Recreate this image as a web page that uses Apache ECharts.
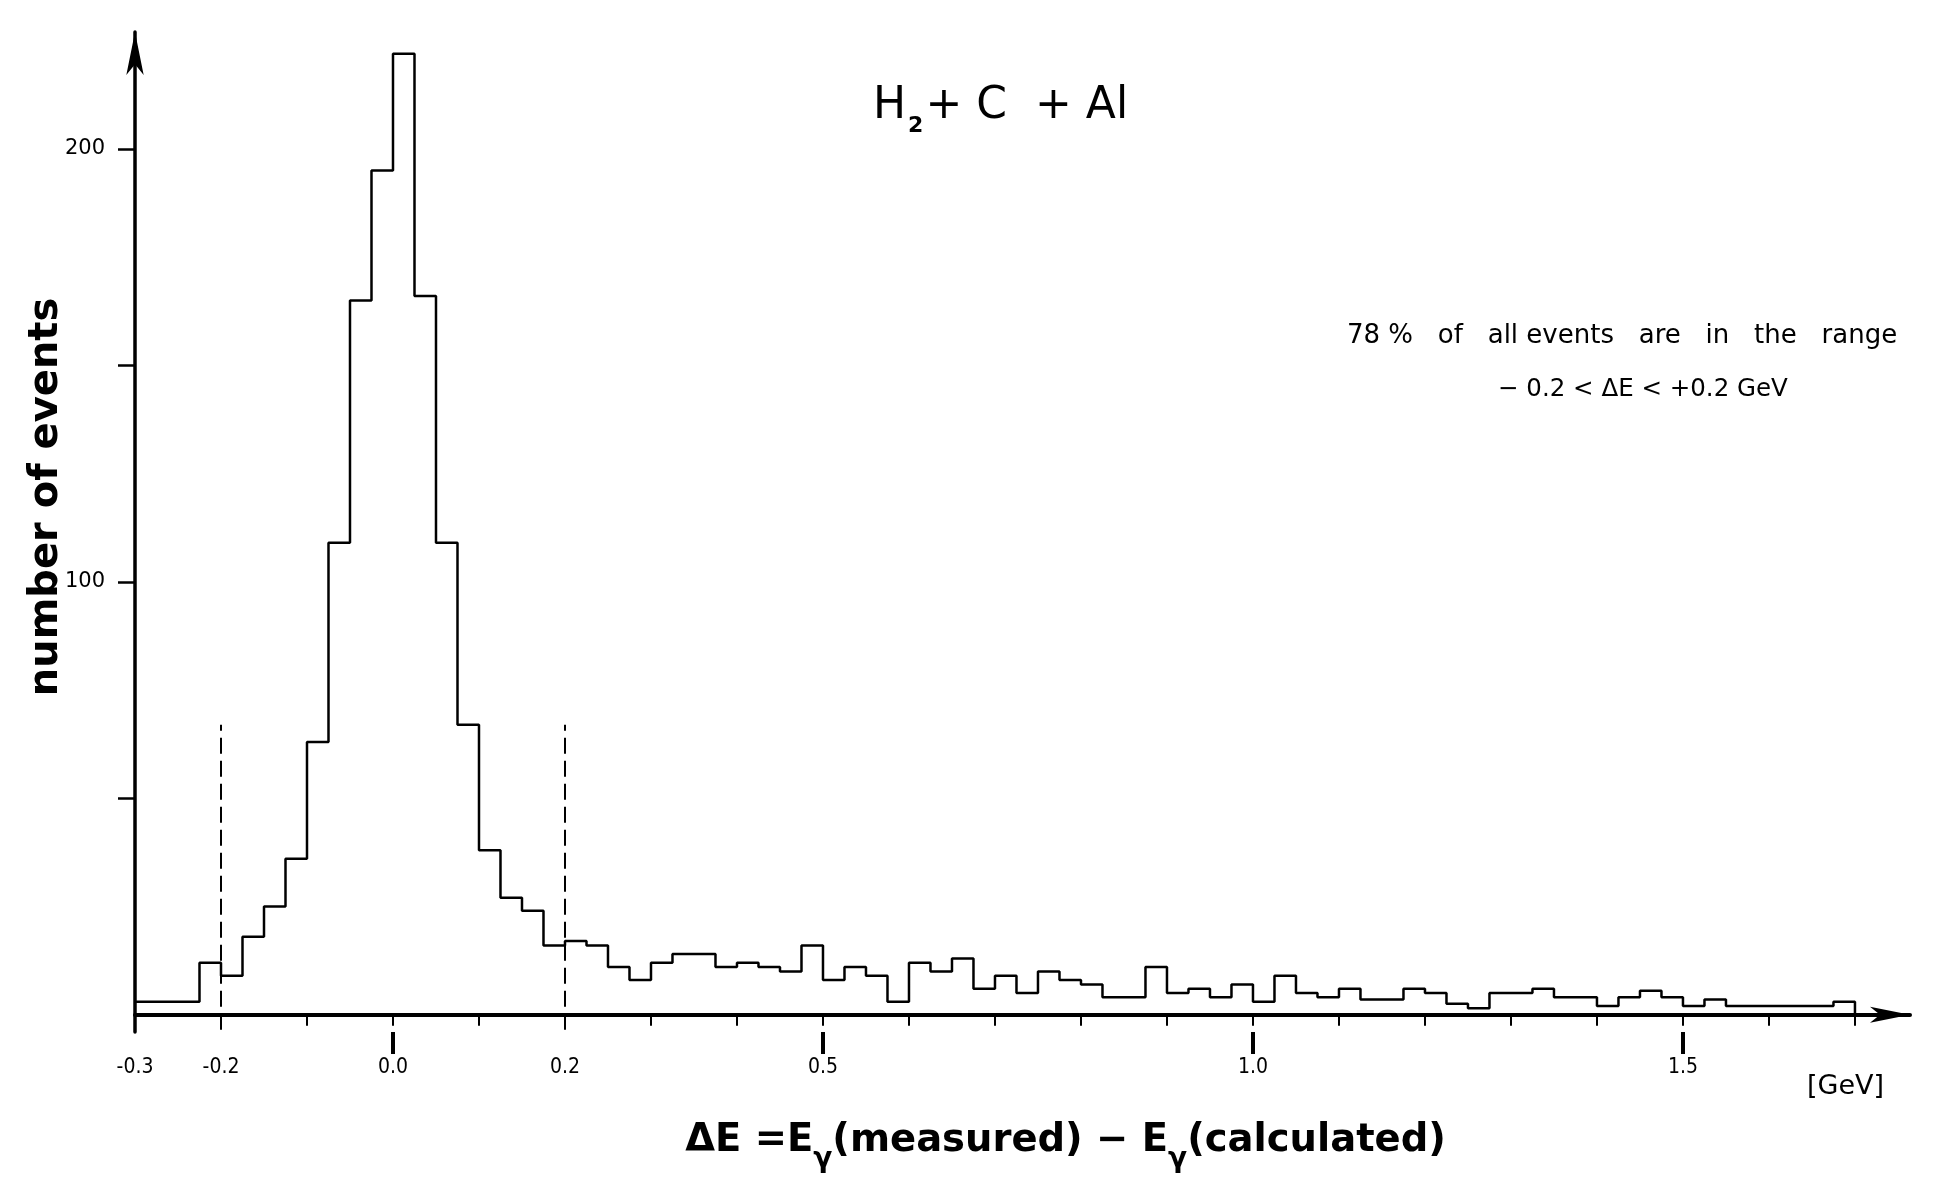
<!DOCTYPE html>
<html>
<head>
<meta charset="utf-8">
<script src="https://cdn.jsdelivr.net/npm/echarts@6/dist/echarts.min.js"></script>
<style>
html,body{margin:0;padding:0;background:#fff;}
#chart{width:1939px;height:1179px;}
</style>
</head>
<body>
<div id="chart"></div>
<script>
// ---- data ----
const binStart = -0.3;       // GeV, left edge of first bin
const binWidth = 0.025;      // GeV
const counts = [
  3, 3, 3, 12, 9, 18, 25, 36, 63, 109,
  165, 195, 222, 166, 109, 67, 38, 27, 24, 16,
  17, 16, 11, 8, 12, 14, 14, 11, 12, 11,
  10, 16, 8, 11, 9, 3, 12, 10, 13, 6,
  9, 5, 10, 8, 7, 4, 4, 11, 5, 6,
  4, 7, 3, 9, 5, 4, 6, 3.5, 3.5, 6,
  5, 2.5, 1.5, 5, 5, 6, 4, 4, 2, 4,
  5.5, 4, 2, 3.5, 2, 2, 2, 2, 2, 3
];
const xMinorTicks = [-0.3,-0.2,-0.1,0,0.1,0.2,0.3,0.4,0.5,0.6,0.7,0.8,0.9,1.0,1.1,1.2,1.3,1.4,1.5,1.6,1.7];
const xMajorTicks = [0, 0.5, 1.0, 1.5];
const xLabels = [-0.3, -0.2, 0, 0.2, 0.5, 1.0, 1.5];
const unitText = '[GeV]';
const yTicks = [50, 100, 150, 200];
const yLabels = [100, 200];
const cutLines = [-0.2, 0.2];
const cutRange = [-3.5, 67];
const titleText = ['H', '2', '+ C  + Al'];
const noteLine1 = '78 %   of   all events   are   in   the   range';
const noteLine2 = '− 0.2 < ΔE < +0.2 GeV';
const xName = ['ΔE =E', 'γ', '(measured) − E', 'γ', '(calculated)'];
const yName = 'number of events';

// ---- build histogram outline ----
const histPoints = counts.map((c, i) => [binStart + i * binWidth, c]);
const binEnd = binStart + counts.length * binWidth;
histPoints.push([binEnd, counts[counts.length - 1]]);
histPoints.push([binEnd, 0]);

const LABEL_FONT = '"Liberation Sans Narrow","DejaVu Sans Condensed","DejaVu Sans",sans-serif';
const TEXT_FONT = '"DejaVu Sans","Liberation Sans",sans-serif';

const X_MIN = -0.3, X_MAX = 1.764, Y_MIN = -4, Y_MAX = 227;

const chart = echarts.init(document.getElementById('chart'), null, {renderer: 'canvas'});
const option = {
  animation: false,
  backgroundColor: '#fff',
  title: [
    {
      text: '{a|' + titleText[0] + '}{b|' + titleText[1] + '}{a|' + titleText[2] + '}',
      left: 868, top: 72,
      textStyle: {
        fontWeight: 'normal',
        rich: {
          a: {fontSize: 44, fontWeight: 'normal', fontFamily: TEXT_FONT, color: '#000'},
          b: {fontSize: 22, fontWeight: 'bold', fontFamily: TEXT_FONT, color: '#000', padding: [38, 2, 0, 2]}
        }
      }
    },
    {
      text: noteLine1, left: 1342, top: 318,
      textStyle: {fontSize: 26, fontWeight: 'normal', fontFamily: TEXT_FONT, color: '#000'}
    },
    {
      text: noteLine2, left: 1493, top: 372,
      textStyle: {fontSize: 24.5, fontWeight: 'normal', fontFamily: TEXT_FONT, color: '#000'}
    },
    {
      text: unitText, left: 1802, top: 1068,
      textStyle: {fontSize: 27, fontWeight: 'normal', fontFamily: TEXT_FONT, color: '#000'}
    }
  ],
  grid: {left: 135, right: 29, top: 32, bottom: 145},
  xAxis: [
    {
      type: 'value', min: X_MIN, max: X_MAX, position: 'bottom',
      axisLine: {show: true, onZero: true, lineStyle: {color: '#000', width: 4},
                 symbol: ['none', 'arrow'], symbolSize: [12, 40]},
      axisTick: {show: true, customValues: xMinorTicks, length: 11, lineStyle: {color: '#000', width: 2}},
      axisLabel: {
        customValues: xLabels,
        margin: 25, color: '#000', fontSize: 21, fontFamily: LABEL_FONT,
        formatter: v => v.toFixed(1)
      },
      splitLine: {show: false},
      name: '{t|' + xName[0] + '}{s|' + xName[1] + '}{t|' + xName[2] + '}{s|' + xName[3] + '}{t|' + xName[4] + '}',
      nameLocation: 'middle', nameGap: 76, nameMoveOverlap: false,
      nameTextStyle: {
        padding: [0, 0, 0, 86],
        rich: {
          t: {fontSize: 38.5, fontWeight: 'bold', fontFamily: TEXT_FONT, color: '#000'},
          s: {fontSize: 28, fontWeight: 'bold', fontFamily: TEXT_FONT, color: '#000', padding: [38, 0, 0, 0]}
        }
      }
    },
    {
      type: 'value', min: X_MIN, max: X_MAX, position: 'bottom',
      axisLine: {show: false, onZero: true},
      axisTick: {show: true, customValues: xMajorTicks, length: 22, lineStyle: {color: '#000', width: 4}},
      axisLabel: {show: false},
      splitLine: {show: false}
    }
  ],
  yAxis: {
    type: 'value', min: Y_MIN, max: Y_MAX, position: 'left',
    axisLine: {show: true, onZero: false, lineStyle: {color: '#000', width: 3.5},
               symbol: ['none', 'arrow'], symbolSize: [13, 43]},
    axisTick: {show: true, customValues: yTicks, length: 17, lineStyle: {color: '#000', width: 2.5}},
    axisLabel: {customValues: yLabels, margin: 30, fontSize: 21, color: '#000', fontFamily: TEXT_FONT},
    splitLine: {show: false},
    name: yName, nameLocation: 'middle', nameRotate: 90, nameGap: 68, nameMoveOverlap: false,
    nameTextStyle: {fontSize: 40, fontWeight: 'bold', fontFamily: TEXT_FONT, color: '#000', padding: [0, 0, 0, 70]}
  },
  series: [
    {
      type: 'line', xAxisIndex: 0, yAxisIndex: 0,
      data: histPoints, step: 'end', symbol: 'none', silent: true,
      lineStyle: {color: '#000', width: 2.5},
      markLine: {
        silent: true, symbol: ['none', 'none'], label: {show: false},
        lineStyle: {color: '#000', width: 2, type: [16, 7]},
        emphasis: {disabled: true},
        data: cutLines.map(v => [{coord: [v, cutRange[0]]}, {coord: [v, cutRange[1]]}])
      }
    }
  ]
};
chart.setOption(option);
</script>
</body>
</html>
